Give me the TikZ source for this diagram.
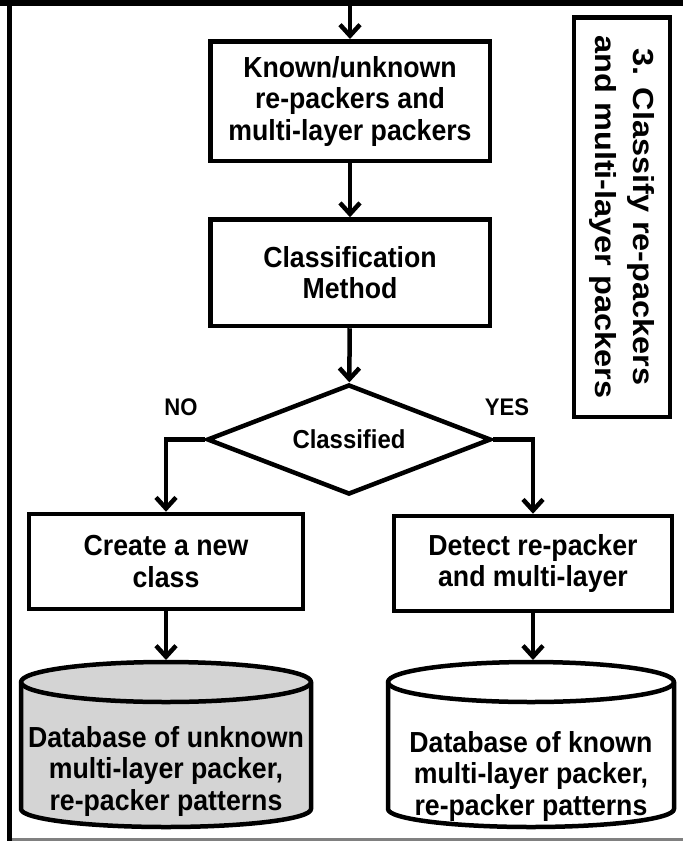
\documentclass[tikz,border=0pt]{standalone}
\usepackage{fontspec}
\setmainfont{Liberation Sans}[FakeStretch=0.92]
\newfontfamily\lblfont{Liberation Sans}[FakeStretch=1.12]
\usetikzlibrary{arrows.meta,shapes.geometric}
\definecolor{cylgray}{RGB}{212,212,212}
\definecolor{framegray}{RGB}{128,128,128}
\begin{document}
\begin{tikzpicture}[x=1pt,y=-1pt,
  lw/.style={line width=4.5pt},
  txt/.style={font=\fontsize{29}{31.5}\selectfont\bfseries, align=center},
  box/.style={draw, lw, rectangle, txt, inner sep=0pt},
  arr/.style={lw, -{Straight Barb[length=11pt,width=20pt]}},
  cyl/.style={lw, line join=round},
  yn/.style={font=\fontsize{24}{26}\selectfont\bfseries}
]
\useasboundingbox (0,0) rectangle (683,841);
% frame
\draw[line width=3.5pt, framegray] (9.5,839.5) -- (683,839.5);
\draw[line width=6pt] (0,3) -- (683,3);
\draw[line width=4.5pt] (9.5,0) -- (9.5,841);

% label box
\node[draw, lw, rotate=-90, minimum width=399.5pt, minimum height=96pt, inner sep=0pt, align=center,
  font=\lblfont\fontsize{29}{38}\selectfont\bfseries] (lbl) at (622,217) {3. Classify re-packers\\and multi-layer packers};

% boxes
\node[box, minimum width=279.5pt, minimum height=119.5pt] (b1) at (350,101) {Known/unknown\\re-packers and\\multi-layer packers};
\node[box, minimum width=279.5pt, minimum height=106.5pt] (b2) at (350,272.75) {Classification\\Method};
\node[draw, lw, diamond, aspect=2.6, minimum width=284pt, minimum height=110pt, inner sep=0pt,
  font=\fontsize{26}{28}\selectfont\bfseries] (d) at (349,439.5) {Classified};
\node[box, minimum width=274pt, minimum height=95pt] (b3) at (166,561.5) {Create a new\\class};
\node[box, minimum width=278pt, minimum height=95pt] (b4) at (533,563.5) {Detect re-packer\\and multi-layer};

\node[yn] (no) at (181,407) {NO};
\node[yn] (yes) at (507,407) {YES};

% cylinders
\draw[cyl, fill=cylgray] (21,682) -- (21,809) arc[start angle=180, end angle=360, x radius=145pt, y radius=18pt]
  -- (311,682) arc[start angle=0, end angle=180, x radius=145pt, y radius=20pt] -- cycle;
\draw[cyl] (21,682) arc[start angle=180, end angle=360, x radius=145pt, y radius=20pt];
\draw[cyl, fill=white] (388,682) -- (388,809) arc[start angle=180, end angle=360, x radius=143pt, y radius=18pt]
  -- (674,682) arc[start angle=0, end angle=180, x radius=143pt, y radius=20pt] -- cycle;
\draw[cyl] (388,682) arc[start angle=180, end angle=360, x radius=143pt, y radius=20pt];
\node[txt] (db1) at (166,771) {Database of unknown\\multi-layer packer,\\re-packer patterns};
\node[txt] (db2) at (531,776) {Database of known\\multi-layer packer,\\re-packer patterns};
\coordinate (c1top) at (166,660);
\coordinate (c2top) at (533,660);
\coordinate (topin) at (350,5);

% connectors
\draw[arr] (topin) -- (b1);
\draw[arr] (b1) -- (b2);
\draw[arr] (b2) -- (d);
\draw[arr] (d.west) -| (b3);
\draw[arr] (d.east) -| (b4);
\draw[arr] (b3) -- (c1top);
\draw[arr] (b4) -- (c2top);
\end{tikzpicture}
\end{document}
